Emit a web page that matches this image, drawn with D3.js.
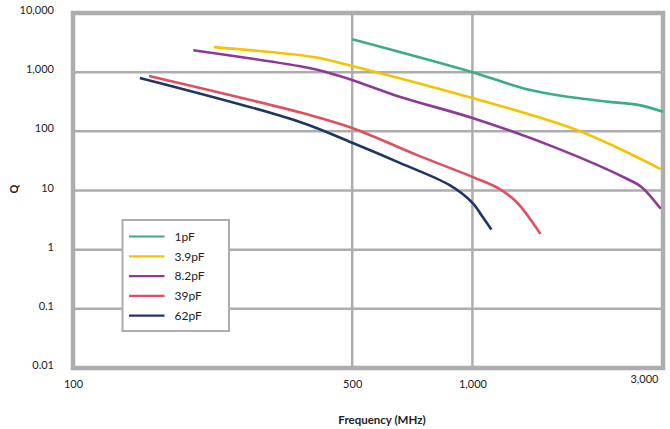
<!DOCTYPE html>
<html>
<head>
<meta charset="utf-8">
<script src="https://cdnjs.cloudflare.com/ajax/libs/d3/7.8.5/d3.min.js"></script>
<style>
  body { margin: 0; background: #fff; }
  text { font-family: Lato, "Open Sans", sans-serif; fill: #222; }
  .axisTitle { font-weight: bold; }
</style>
</head>
<body>
<div id="chart"></div>
<script>
// Data (frequency in MHz, Q)
var series = ["1pF", "3.9pF", "8.2pF", "39pF", "62pF"];
var colors = ["#3aad88", "#f5c300", "#8c3a96", "#e14f5e", "#1f3563"];

var q1pF = [[500, 3600], [1000, 1000], [1360, 520], [1750, 380], [2200, 315], [2600, 280], [3000, 215]];
var q3_9pF = [[225, 2650], [400, 1800], [500, 1270], [725, 660], [1000, 365], [1820, 106], [2960, 23]];
var q8_2pF = [[200, 2350], [390, 1180], [440, 960], [500, 740], [660, 380], [1000, 168], [1650, 50], [2450, 15.5], [2650, 11.5], [2960, 4.9]];
var q39pF = [[155, 860], [390, 190], [500, 114], [725, 40], [1000, 17], [1160, 11], [1290, 6.4], [1390, 3.4], [1480, 1.85]];
var q62pF = [[147, 800], [370, 144], [500, 64], [660, 29], [875, 12.4], [1000, 6.2], [1060, 3.6], [1115, 2.2]];

var xTicks = [100, 500, 1000, 3000];
var xGrid = [500, 1000];
var yTicks = [0.01, 0.1, 1, 10, 100, 1000, 10000];

var allSeries = [q1pF, q3_9pF, q8_2pF, q39pF, q62pF];

var svgWidth = 670;
var svgHeight = 429;

var margin = { top: 13, right: 7, bottom: 61, left: 73 };
var width = svgWidth - margin.left - margin.right;
var height = svgHeight - margin.top - margin.bottom;

var svg = d3.select("#chart")
    .append("svg")
    .attr("width", svgWidth)
    .attr("height", svgHeight);

var chartGroup = svg.append("g")
    .attr("transform", `translate(${margin.left}, ${margin.top})`);

// Scales
var xScale = d3.scaleLog().domain([100, 3000]).range([0, width]);
var yScale = d3.scaleLog().domain([0.01, 10000]).range([height, 0]);

var gridColor = "#adadaf";
var fmt = d3.format(",");

// Gridlines
chartGroup.append("g")
    .selectAll("line")
    .data(yTicks.slice(1, -1))
    .enter()
    .append("line")
    .attr("x1", 0)
    .attr("x2", width)
    .attr("y1", d => yScale(d))
    .attr("y2", d => yScale(d))
    .attr("stroke", gridColor)
    .attr("stroke-width", 2.5);

chartGroup.append("g")
    .selectAll("line")
    .data(xGrid)
    .enter()
    .append("line")
    .attr("x1", d => xScale(d))
    .attr("x2", d => xScale(d))
    .attr("y1", 0)
    .attr("y2", height)
    .attr("stroke", gridColor)
    .attr("stroke-width", 2.5);

// Frame
chartGroup.append("rect")
    .attr("x", 0)
    .attr("y", 0)
    .attr("width", width)
    .attr("height", height)
    .attr("fill", "none")
    .attr("stroke", gridColor)
    .attr("stroke-width", 4.5);

// Axes (labels only, the frame draws the lines)
var bottomAxis = d3.axisBottom(xScale)
    .tickValues(xTicks)
    .tickSize(0)
    .tickPadding(12)
    .tickFormat(fmt);

var leftAxis = d3.axisLeft(yScale)
    .tickValues(yTicks)
    .tickSize(0)
    .tickPadding(19)
    .tickFormat(fmt);

var xAxisG = chartGroup.append("g")
    .attr("transform", `translate(0, ${height})`)
    .call(bottomAxis);

var yAxisG = chartGroup.append("g")
    .call(leftAxis);

[xAxisG, yAxisG].forEach(function(g) {
    g.select(".domain").remove();
    g.selectAll("text")
        .style("font-family", "Lato, sans-serif")
        .style("font-size", "11px")
        .attr("fill", "#222");
});
yAxisG.selectAll("text").attr("dy", "0.05em");
xAxisG.selectAll("text")
    .filter(d => d === 3000)
    .attr("text-anchor", "end")
    .attr("dx", -5)
    .attr("y", 7);

// Lines
var line = d3.line()
    .x(d => xScale(d[0]))
    .y(d => yScale(d[1]))
    .curve(d3.curveCatmullRom.alpha(0.5));

chartGroup.append("g")
    .selectAll("path")
    .data(allSeries)
    .enter()
    .append("path")
    .attr("d", line)
    .attr("fill", "none")
    .attr("stroke", (d, i) => colors[i])
    .attr("stroke-width", 2.6)
    .attr("stroke-linejoin", "round");

// Legend
var legend = svg.append("g")
    .attr("transform", "translate(122.5, 220)");

legend.append("rect")
    .attr("width", 106.5)
    .attr("height", 111)
    .attr("fill", "#fff")
    .attr("stroke", gridColor)
    .attr("stroke-width", 2);

var legendRows = legend.selectAll(".row")
    .data(series)
    .enter()
    .append("g")
    .attr("class", "row")
    .attr("transform", (d, i) => `translate(0, ${16.5 + i * 19.8})`);

legendRows.append("line")
    .attr("x1", 6.5)
    .attr("x2", 42)
    .attr("stroke", (d, i) => colors[i])
    .attr("stroke-width", 2.2);

legendRows.append("text")
    .attr("x", 52)
    .attr("dy", "0.35em")
    .style("font-size", "12px")
    .text(d => d);

// Axis titles
svg.append("text")
    .attr("class", "axisTitle")
    .attr("transform", "translate(18, 189) rotate(-90)")
    .attr("text-anchor", "middle")
    .style("font-size", "11px")
    .text("Q");

svg.append("text")
    .attr("class", "axisTitle")
    .attr("x", 382)
    .attr("y", 424)
    .attr("text-anchor", "middle")
    .style("font-size", "11.5px")
    .text("Frequency (MHz)");
</script>
</body>
</html>
